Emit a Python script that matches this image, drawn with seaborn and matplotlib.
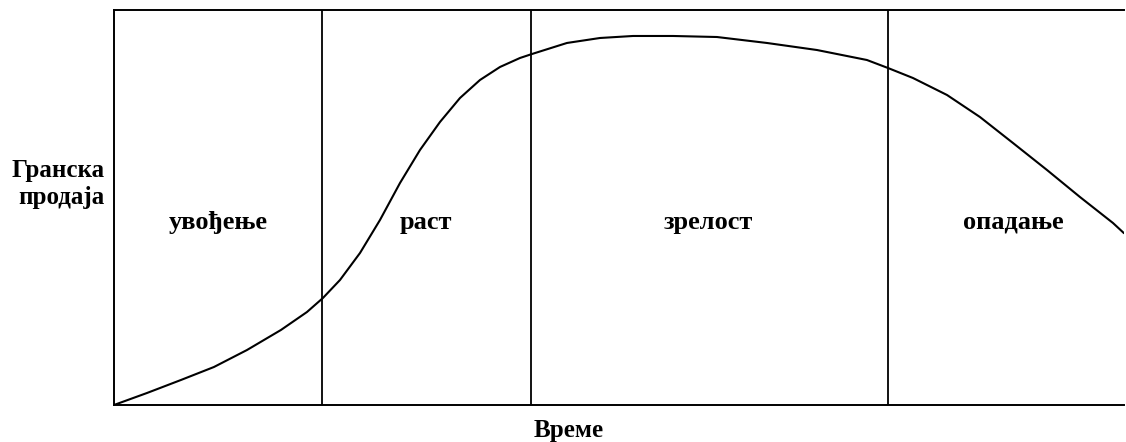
import matplotlib
matplotlib.use("Agg")
import matplotlib.pyplot as plt
import seaborn as sns
import pandas as pd

# Крива животног циклуса (очитано са слике, јединице 0-100)
vreme = [0, 3.27, 6.63, 9.90, 13.17, 16.53, 19.11, 20.69, 22.38, 24.36, 26.34,
         28.32, 30.30, 32.28, 34.26, 36.24, 38.22, 40.20, 41.39, 44.85, 48.12,
         51.39, 55.35, 59.70, 64.65, 69.60, 74.55, 76.63, 79.11, 82.48, 85.74,
         89.01, 92.38, 95.64, 98.91, 100]
prodaja = [0, 3.04, 6.33, 9.62, 13.92, 18.99, 23.54, 27.09, 31.65, 38.48, 46.84,
           56.20, 64.56, 71.65, 77.72, 82.28, 85.57, 87.85, 88.86, 91.65, 92.91,
           93.42, 93.42, 93.16, 91.65, 89.87, 87.34, 85.32, 82.78, 78.48, 72.91,
           66.33, 59.49, 52.66, 46.08, 43.5]

granice = [20.6, 41.3, 76.6]
faze = ["увођење", "раст", "зрелост", "опадање"]
faze_x = [10.35, 30.9, 58.9, 89.0]
faze_y = 44.6

sns.set_style("white")
plt.rcParams['font.family'] = ['Liberation Serif', 'DejaVu Serif']
plt.rcParams['text.color'] = 'black'

fig = plt.figure(figsize=(11.26, 4.42), dpi=100)
ax = fig.add_axes([0.1012, 0.0837, 0.8970, 0.8937])

df = pd.DataFrame({"vreme": vreme, "prodaja": prodaja})
sns.lineplot(data=df, x="vreme", y="prodaja", ax=ax, color="black", lw=1.5)

for g in granice:
    ax.axvline(g, color="black", lw=1.3)

for naziv, x in zip(faze, faze_x):
    ax.text(x, faze_y, naziv, ha="center", va="baseline", fontsize=19,
            fontweight="bold", color="black")

ax.set_xlim(0, 100)
ax.set_ylim(0, 100)
ax.set_xticks([])
ax.set_yticks([])
ax.set_xlabel("")
ax.set_ylabel("")
for s in ["left", "bottom", "top"]:
    ax.spines[s].set_color("black")
    ax.spines[s].set_linewidth(1.4)
ax.spines["right"].set_visible(False)

# ознака y осе у два реда
fig.text(105 / 1126, 1 - 177 / 442, "Гранска", ha="right", va="baseline",
         fontsize=18, fontweight="bold", color="black")
fig.text(105 / 1126, 1 - 204 / 442, "продаја", ha="right", va="baseline",
         fontsize=18, fontweight="bold", color="black")
fig.text(569 / 1126, 1 - 437 / 442, "Време", ha="center", va="baseline",
         fontsize=18, fontweight="bold", color="black")

fig.savefig("out.png", dpi=100)
